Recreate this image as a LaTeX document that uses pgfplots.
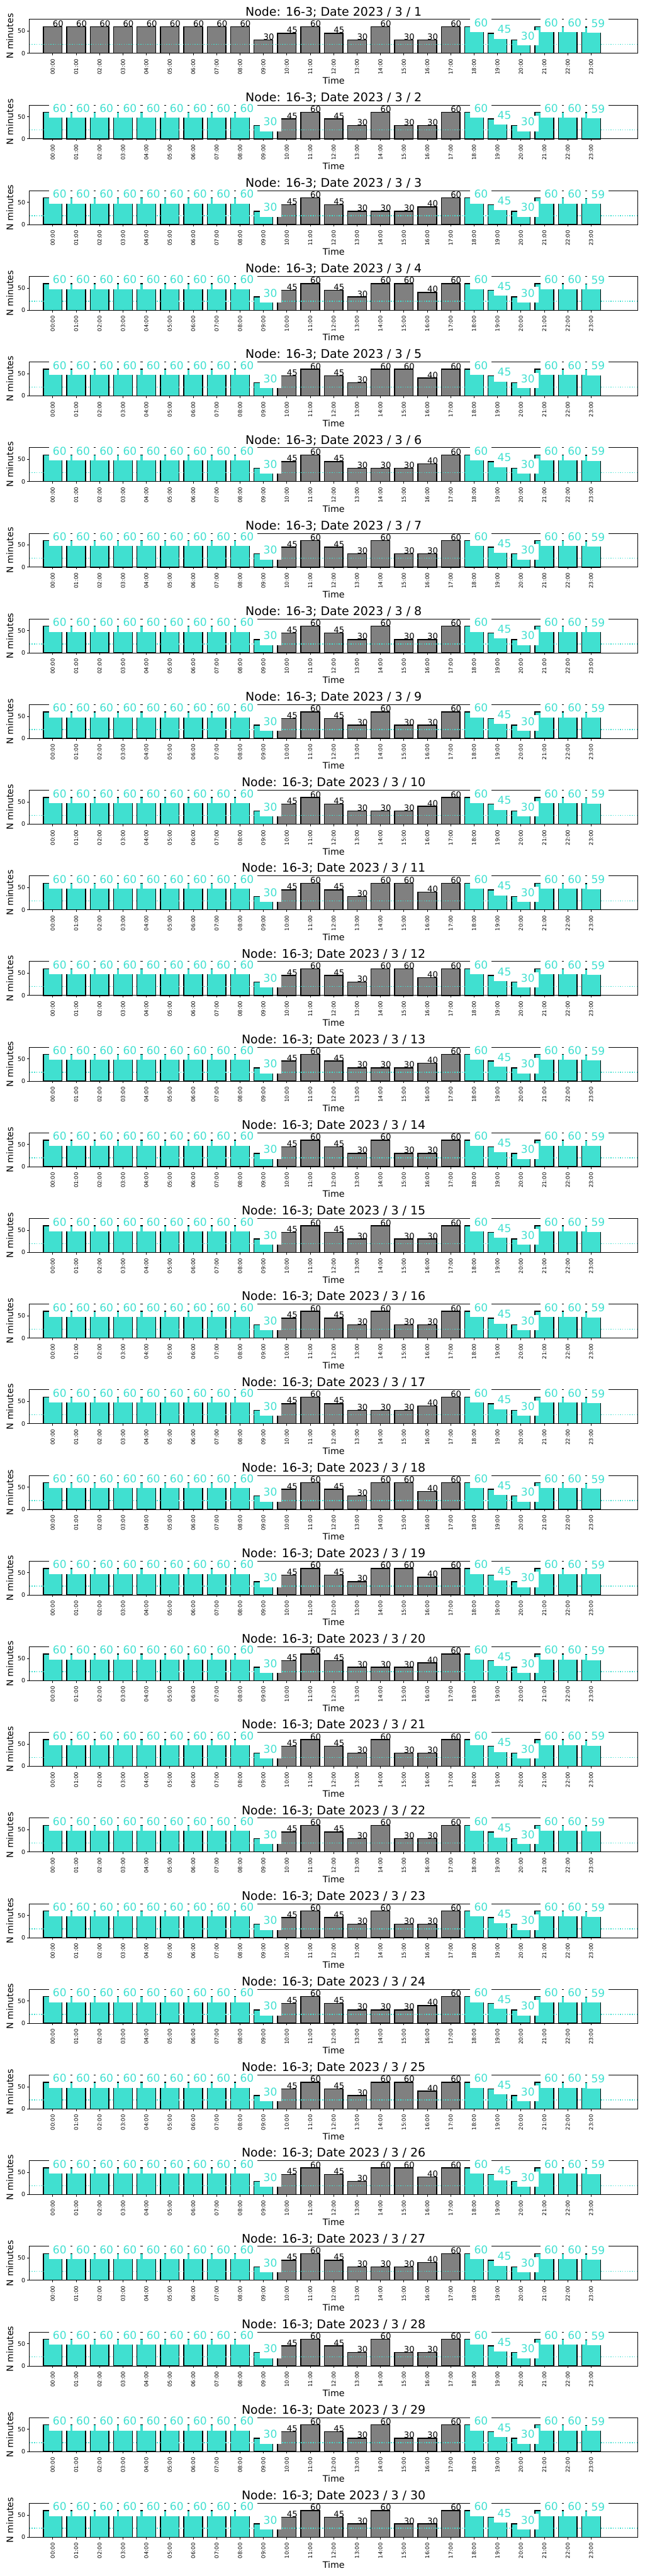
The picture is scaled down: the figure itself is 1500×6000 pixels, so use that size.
\documentclass[border=0pt]{standalone}
\usepackage{fontspec}
\setmainfont{DejaVu Sans}
\usepackage{pgfplots}
\pgfplotsset{compat=1.18}
\definecolor{turq}{HTML}{40E0D0}
\definecolor{mgray}{HTML}{808080}
\pgfplotsset{
  panel/.style={
    set layers,
    scale only axis, width=1416.7pt, height=79pt,
    anchor=north west,
    xmin=-1, xmax=25, ymin=0, ymax=76.4,
    clip=false,
    axis line style={line width=1.1pt, black},
    xtick={0,...,23},
    xticklabels={00:00,01:00,02:00,03:00,04:00,05:00,06:00,07:00,08:00,09:00,10:00,11:00,12:00,13:00,14:00,15:00,16:00,17:00,18:00,19:00,20:00,21:00,22:00,23:00},
    ytick={0,50},
    tick align=outside, xtick pos=left, ytick pos=left,
    major tick length=4.9pt, minor tick num=0,
    tick style={line width=1.1pt, black},
    xticklabel style={rotate=90, anchor=east, inner sep=0pt, font=\fontsize{12.5}{15}\selectfont},
    yticklabel style={anchor=east, inner sep=0pt, font=\fontsize{13.9}{16}\selectfont},
    xticklabel shift=8.4pt, yticklabel shift=4.4pt,
    /pgf/number format/assume math mode=true,
    xlabel={Time}, ylabel={N minutes},
    every axis x label/.style={at={(axis description cs:0.5,-0.9038)}, anchor=base, font=\fontsize{20.8}{25}\selectfont},
    every axis y label/.style={at={(axis description cs:-0.02654,0.5)}, rotate=90, anchor=base, font=\fontsize{20.8}{25}\selectfont},
    every axis title/.style={at={(axis description cs:0.5,1.105)}, anchor=base, font=\fontsize{27.8}{33}\selectfont},
  },
  graylab/.style={draw=none, nodes near coords, point meta=y,
    nodes near coords style={anchor=base west, inner sep=0pt, text=black, font=\fontsize{19.4}{23}\selectfont}},
  cyanlab/.style={draw=none, nodes near coords, point meta=y,
    nodes near coords style={anchor=base west, text=turq, fill=white, inner xsep=9pt, inner ysep=4.5pt, text height=18.5pt, text depth=8.5pt, xshift=-9pt, font=\fontsize{25}{30}\selectfont}},
  barstyle/.style={ybar, bar width=0.8, bar shift=0pt, draw=black, line width=2.1pt},
}
% #1 panel index, #2 day, #3 gray (day-time) bars, #4 cyan (night-time) bars
\newcommand{\panel}[4]{%
\begin{axis}[panel, at={(68.3pt,-45pt-#1*199.5pt)}, title={Node: 16-3; Date 2023 / 3 / #2}]
\addplot[barstyle, fill=mgray] coordinates {#3};
\addplot[barstyle, fill=turq] coordinates {#4};
\addplot[turq, line width=2.1pt, dash pattern=on 2.1pt off 3.4pt] coordinates {(-1,20) (25,20)};
\addplot[graylab] coordinates {#3};
\addplot[cyanlab] coordinates {#4};
\end{axis}}
\begin{document}
\begin{tikzpicture}
\panel{0}{1}{(0,60)(1,60)(2,60)(3,60)(4,60)(5,60)(6,60)(7,60)(8,60)(9,30)(10,45)(11,60)(12,45)(13,30)(14,60)(15,30)(16,30)(17,60)}{(18,60)(19,45)(20,30)(21,60)(22,60)(23,59)}
\panel{1}{2}{(10,45)(11,60)(12,45)(13,30)(14,60)(15,30)(16,30)(17,60)}{(0,60)(1,60)(2,60)(3,60)(4,60)(5,60)(6,60)(7,60)(8,60)(9,30)(18,60)(19,45)(20,30)(21,60)(22,60)(23,59)}
\panel{2}{3}{(10,45)(11,60)(12,45)(13,30)(14,30)(15,30)(16,40)(17,60)}{(0,60)(1,60)(2,60)(3,60)(4,60)(5,60)(6,60)(7,60)(8,60)(9,30)(18,60)(19,45)(20,30)(21,60)(22,60)(23,59)}
\panel{3}{4}{(10,45)(11,60)(12,45)(13,30)(14,60)(15,60)(16,40)(17,60)}{(0,60)(1,60)(2,60)(3,60)(4,60)(5,60)(6,60)(7,60)(8,60)(9,30)(18,60)(19,45)(20,30)(21,60)(22,60)(23,59)}
\panel{4}{5}{(10,45)(11,60)(12,45)(13,30)(14,60)(15,60)(16,40)(17,60)}{(0,60)(1,60)(2,60)(3,60)(4,60)(5,60)(6,60)(7,60)(8,60)(9,30)(18,60)(19,45)(20,30)(21,60)(22,60)(23,59)}
\panel{5}{6}{(10,45)(11,60)(12,45)(13,30)(14,30)(15,30)(16,40)(17,60)}{(0,60)(1,60)(2,60)(3,60)(4,60)(5,60)(6,60)(7,60)(8,60)(9,30)(18,60)(19,45)(20,30)(21,60)(22,60)(23,59)}
\panel{6}{7}{(10,45)(11,60)(12,45)(13,30)(14,60)(15,30)(16,30)(17,60)}{(0,60)(1,60)(2,60)(3,60)(4,60)(5,60)(6,60)(7,60)(8,60)(9,30)(18,60)(19,45)(20,30)(21,60)(22,60)(23,59)}
\panel{7}{8}{(10,45)(11,60)(12,45)(13,30)(14,60)(15,30)(16,30)(17,60)}{(0,60)(1,60)(2,60)(3,60)(4,60)(5,60)(6,60)(7,60)(8,60)(9,30)(18,60)(19,45)(20,30)(21,60)(22,60)(23,59)}
\panel{8}{9}{(10,45)(11,60)(12,45)(13,30)(14,60)(15,30)(16,30)(17,60)}{(0,60)(1,60)(2,60)(3,60)(4,60)(5,60)(6,60)(7,60)(8,60)(9,30)(18,60)(19,45)(20,30)(21,60)(22,60)(23,59)}
\panel{9}{10}{(10,45)(11,60)(12,45)(13,30)(14,30)(15,30)(16,40)(17,60)}{(0,60)(1,60)(2,60)(3,60)(4,60)(5,60)(6,60)(7,60)(8,60)(9,30)(18,60)(19,45)(20,30)(21,60)(22,60)(23,59)}
\panel{10}{11}{(10,45)(11,60)(12,45)(13,30)(14,60)(15,60)(16,40)(17,60)}{(0,60)(1,60)(2,60)(3,60)(4,60)(5,60)(6,60)(7,60)(8,60)(9,30)(18,60)(19,45)(20,30)(21,60)(22,60)(23,59)}
\panel{11}{12}{(10,45)(11,60)(12,45)(13,30)(14,60)(15,60)(16,40)(17,60)}{(0,60)(1,60)(2,60)(3,60)(4,60)(5,60)(6,60)(7,60)(8,60)(9,30)(18,60)(19,45)(20,30)(21,60)(22,60)(23,59)}
\panel{12}{13}{(10,45)(11,60)(12,45)(13,30)(14,30)(15,30)(16,40)(17,60)}{(0,60)(1,60)(2,60)(3,60)(4,60)(5,60)(6,60)(7,60)(8,60)(9,30)(18,60)(19,45)(20,30)(21,60)(22,60)(23,59)}
\panel{13}{14}{(10,45)(11,60)(12,45)(13,30)(14,60)(15,30)(16,30)(17,60)}{(0,60)(1,60)(2,60)(3,60)(4,60)(5,60)(6,60)(7,60)(8,60)(9,30)(18,60)(19,45)(20,30)(21,60)(22,60)(23,59)}
\panel{14}{15}{(10,45)(11,60)(12,45)(13,30)(14,60)(15,30)(16,30)(17,60)}{(0,60)(1,60)(2,60)(3,60)(4,60)(5,60)(6,60)(7,60)(8,60)(9,30)(18,60)(19,45)(20,30)(21,60)(22,60)(23,59)}
\panel{15}{16}{(10,45)(11,60)(12,45)(13,30)(14,60)(15,30)(16,30)(17,60)}{(0,60)(1,60)(2,60)(3,60)(4,60)(5,60)(6,60)(7,60)(8,60)(9,30)(18,60)(19,45)(20,30)(21,60)(22,60)(23,59)}
\panel{16}{17}{(10,45)(11,60)(12,45)(13,30)(14,30)(15,30)(16,40)(17,60)}{(0,60)(1,60)(2,60)(3,60)(4,60)(5,60)(6,60)(7,60)(8,60)(9,30)(18,60)(19,45)(20,30)(21,60)(22,60)(23,59)}
\panel{17}{18}{(10,45)(11,60)(12,45)(13,30)(14,60)(15,60)(16,40)(17,60)}{(0,60)(1,60)(2,60)(3,60)(4,60)(5,60)(6,60)(7,60)(8,60)(9,30)(18,60)(19,45)(20,30)(21,60)(22,60)(23,59)}
\panel{18}{19}{(10,45)(11,60)(12,45)(13,30)(14,60)(15,60)(16,40)(17,60)}{(0,60)(1,60)(2,60)(3,60)(4,60)(5,60)(6,60)(7,60)(8,60)(9,30)(18,60)(19,45)(20,30)(21,60)(22,60)(23,59)}
\panel{19}{20}{(10,45)(11,60)(12,45)(13,30)(14,30)(15,30)(16,40)(17,60)}{(0,60)(1,60)(2,60)(3,60)(4,60)(5,60)(6,60)(7,60)(8,60)(9,30)(18,60)(19,45)(20,30)(21,60)(22,60)(23,59)}
\panel{20}{21}{(10,45)(11,60)(12,45)(13,30)(14,60)(15,30)(16,30)(17,60)}{(0,60)(1,60)(2,60)(3,60)(4,60)(5,60)(6,60)(7,60)(8,60)(9,30)(18,60)(19,45)(20,30)(21,60)(22,60)(23,59)}
\panel{21}{22}{(10,45)(11,60)(12,45)(13,30)(14,60)(15,30)(16,30)(17,60)}{(0,60)(1,60)(2,60)(3,60)(4,60)(5,60)(6,60)(7,60)(8,60)(9,30)(18,60)(19,45)(20,30)(21,60)(22,60)(23,59)}
\panel{22}{23}{(10,45)(11,60)(12,45)(13,30)(14,60)(15,30)(16,30)(17,60)}{(0,60)(1,60)(2,60)(3,60)(4,60)(5,60)(6,60)(7,60)(8,60)(9,30)(18,60)(19,45)(20,30)(21,60)(22,60)(23,59)}
\panel{23}{24}{(10,45)(11,60)(12,45)(13,30)(14,30)(15,30)(16,40)(17,60)}{(0,60)(1,60)(2,60)(3,60)(4,60)(5,60)(6,60)(7,60)(8,60)(9,30)(18,60)(19,45)(20,30)(21,60)(22,60)(23,59)}
\panel{24}{25}{(10,45)(11,60)(12,45)(13,30)(14,60)(15,60)(16,40)(17,60)}{(0,60)(1,60)(2,60)(3,60)(4,60)(5,60)(6,60)(7,60)(8,60)(9,30)(18,60)(19,45)(20,30)(21,60)(22,60)(23,59)}
\panel{25}{26}{(10,45)(11,60)(12,45)(13,30)(14,60)(15,60)(16,40)(17,60)}{(0,60)(1,60)(2,60)(3,60)(4,60)(5,60)(6,60)(7,60)(8,60)(9,30)(18,60)(19,45)(20,30)(21,60)(22,60)(23,59)}
\panel{26}{27}{(10,45)(11,60)(12,45)(13,30)(14,30)(15,30)(16,40)(17,60)}{(0,60)(1,60)(2,60)(3,60)(4,60)(5,60)(6,60)(7,60)(8,60)(9,30)(18,60)(19,45)(20,30)(21,60)(22,60)(23,59)}
\panel{27}{28}{(10,45)(11,60)(12,45)(13,30)(14,60)(15,30)(16,30)(17,60)}{(0,60)(1,60)(2,60)(3,60)(4,60)(5,60)(6,60)(7,60)(8,60)(9,30)(18,60)(19,45)(20,30)(21,60)(22,60)(23,59)}
\panel{28}{29}{(10,45)(11,60)(12,45)(13,30)(14,60)(15,30)(16,30)(17,60)}{(0,60)(1,60)(2,60)(3,60)(4,60)(5,60)(6,60)(7,60)(8,60)(9,30)(18,60)(19,45)(20,30)(21,60)(22,60)(23,59)}
\panel{29}{30}{(10,45)(11,60)(12,45)(13,30)(14,60)(15,30)(16,30)(17,60)}{(0,60)(1,60)(2,60)(3,60)(4,60)(5,60)(6,60)(7,60)(8,60)(9,30)(18,60)(19,45)(20,30)(21,60)(22,60)(23,59)}
\path (0,0) rectangle (1500pt,-6000pt);
\end{tikzpicture}
\end{document}
